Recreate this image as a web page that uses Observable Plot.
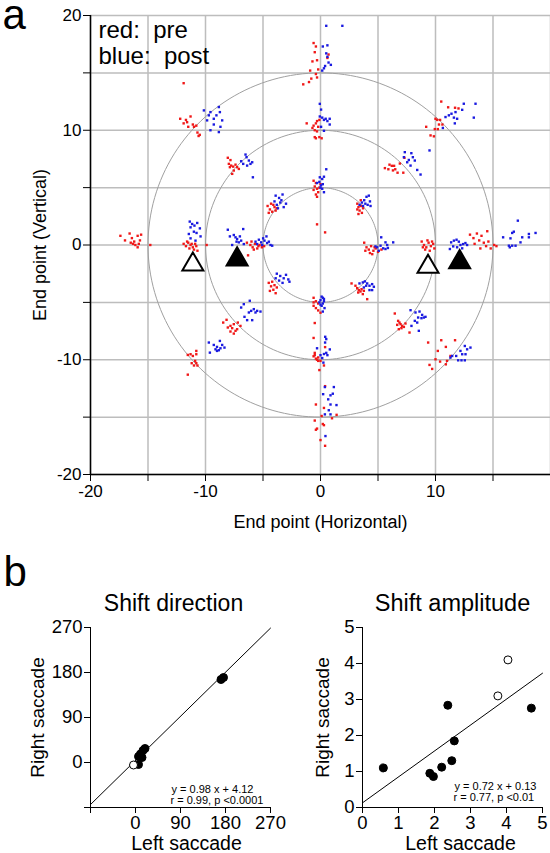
<!DOCTYPE html>
<html><head><meta charset="utf-8">
<script src="https://cdn.jsdelivr.net/npm/d3@7"></script>
<script src="https://cdn.jsdelivr.net/npm/@observablehq/plot@0.6"></script>
<style>
body{margin:0;background:#fff;}
#root{position:relative;width:550px;height:853px;overflow:hidden;background:#fff;}
#root svg{position:absolute;}
</style></head><body><div id="root"></div>
<script>
// ---------- Panel a data: saccade end points (deg) ----------
const prePoints = [
 // left meridian
 [-17.4,0.8],[-17.0,0.4],[-16.6,1.0],[-16.4,0.6],[-16.2,0.3],[-15.9,0.8],[-15.7,0.4],[-16.1,0.0],[-15.9,-0.2],[-16.3,0.1],[-15.6,0.9],[-16.5,0.2],[-15.8,0.1],[-14.8,0.0],
 [-11.9,0.1],[-11.7,-0.1],[-11.5,0.2],[-11.3,0.0],[-11.1,-0.2],[-10.9,0.1],[-11.4,-0.3],[-11.0,-0.4],[-10.8,-0.1],[-11.6,0.3],[-11.2,0.1],[-10.7,-0.5],[-9.9,0.0],
 [-6.4,0.2],[-6.1,0.0],[-5.9,-0.2],[-5.7,0.1],[-5.5,-0.3],[-5.3,0.0],[-5.1,-0.2],[-4.9,-0.1],[-5.8,-0.4],[-6.3,-0.9],[-5.4,-0.1],[-6.0,0.3],
 // right meridian
 [3.8,0.2],[4.0,-0.2],[4.2,-0.4],[4.4,-0.1],[4.6,-0.5],[4.8,-0.3],[5.0,-0.6],[4.3,-0.7],[4.7,-0.2],[5.3,-0.4],[3.9,-0.5],[4.5,-0.8],
 [8.8,0.3],[9.0,0.0],[9.2,-0.2],[9.4,0.2],[9.6,-0.1],[9.8,0.1],[9.1,-0.4],[9.5,-0.5],[9.9,-0.3],[9.3,0.4],[8.9,-0.2],[9.7,0.3],
 [13.0,0.9],[13.3,0.6],[13.6,1.0],[13.8,0.4],[14.0,0.8],[14.2,0.2],[14.4,-0.1],[14.6,0.3],[14.8,-0.3],[15.1,0.0],[13.9,-0.3],[14.5,1.2],[13.4,0.1],[15.3,-0.1],
 // upper meridian
 [-0.6,17.6],[-0.4,17.3],[-0.5,16.8],[-0.3,16.1],[-0.2,15.3],[-0.9,15.2],[-0.4,14.9],[-0.3,14.6],[-0.8,14.5],[-1.0,14.2],[-1.5,14.0],[0.7,16.6],[0.6,16.3],[-0.7,16.0],
 [-1.2,10.6],[-0.6,10.4],[-0.4,10.6],[-0.3,10.8],[-0.1,10.9],[-0.5,10.0],[-0.3,9.9],[-0.5,9.4],[-0.4,9.3],[-0.1,9.4],[0.1,9.3],[-0.7,10.2],[-0.2,10.3],
 [-0.6,5.6],[-0.4,5.4],[-0.5,5.1],[-0.3,4.9],[-0.6,4.8],[-0.2,4.6],[-0.3,4.2],[0.0,5.3],[-0.4,4.4],[-0.1,5.0],[-0.3,1.8],[0.4,1.1],
 // lower meridian
 [-0.6,-4.6],[-0.4,-4.9],[-0.6,-5.3],[-0.4,-5.5],[-0.2,-5.7],[0.0,-5.9],[-0.6,-5.0],[-0.2,-5.1],[-0.5,-6.8],
 [-0.6,-8.1],[0.4,-8.9],[-0.5,-9.4],[-0.6,-9.7],[-0.4,-9.9],[-0.3,-10.0],[-0.2,-10.1],[0.0,-10.1],[0.3,-10.5],[-0.1,-10.9],[-0.5,-9.6],[-0.2,-9.8],
 [0.4,-12.3],[-0.4,-13.9],[0.3,-14.2],[0.1,-14.9],[1.0,-15.1],[1.4,-14.8],[-0.5,-15.3],[0.3,-15.7],[0.2,-15.6],[-0.3,-16.0],[-0.4,-16.1],[0.0,-17.0],[0.4,-17.5],
 // upper left
 [-11.9,14.1],[-12.2,11.0],[-11.7,10.9],[-11.6,10.7],[-11.3,11.2],[-11.1,10.5],[-11.0,10.3],[-10.8,10.4],[-10.7,9.8],[-10.6,9.5],[-10.5,9.6],[-11.5,10.3],[-11.9,10.6],
 [-8.06,7.6],[-7.83,7.4],[-7.97,7.07],[-7.77,6.92],[-7.59,6.83],[-7.39,7.0],[-7.25,6.78],[-7.54,6.49],[-7.68,6.2],[-7.1,6.63],[-7.88,6.78],
 [-4.6,3.4],[-4.4,3.1],[-4.3,3.6],[-4.2,2.9],[-4.0,3.3],[-3.9,3.0],[-4.5,2.8],[-4.1,3.5],[-3.8,3.2],
 // upper right
 [3.2,3.6],[3.3,3.3],[3.4,3.0],[3.5,3.4],[3.6,2.8],[3.3,2.7],[3.7,3.2],[3.5,3.9],[3.2,3.1],
 [5.6,6.7],[6.0,7.0],[6.2,6.9],[6.4,6.9],[6.5,6.6],[6.3,6.5],[6.7,6.3],[7.2,6.3],[6.9,7.1],[7.3,7.6],[5.9,6.6],
 [9.19,10.3],[9.57,9.55],[9.86,9.47],[10.0,11.0],[10.15,10.9],[10.4,10.9],[10.3,10.5],[10.6,10.5],[9.94,10.1],[10.2,10.1],[10.5,12.5],[11.1,12.0],[11.7,11.96],[12.0,11.9],
 // lower left
 [-4.5,-3.3],[-4.3,-3.6],[-4.1,-3.9],[-4.0,-3.5],[-4.4,-4.0],[-3.9,-4.2],[-4.2,-3.2],[-3.8,-3.7],
 [-8.46,-6.76],[-8.17,-6.52],[-8.06,-7.19],[-7.83,-7.05],[-7.68,-7.25],[-7.54,-6.9],[-7.39,-7.48],[-7.25,-7.34],[-7.54,-7.72],[-7.83,-7.54],[-7.19,-6.76],[-6.96,-7.05],
 [-11.54,-9.58],[-11.3,-9.52],[-11.1,-9.67],[-10.8,-9.23],[-10.9,-10.1],[-11.2,-10.3],[-11.0,-10.5],[-10.8,-10.3],[-10.7,-10.5],[-11.54,-11.3],[-10.8,-9.52],
 // lower right
 [2.7,-3.35],[3.04,-3.55],[3.19,-3.76],[3.33,-3.93],[3.48,-4.05],[3.28,-4.14],[3.57,-3.85],[3.68,-4.28],[4.06,-4.72],[3.77,-3.99],
 [6.46,-5.97],[6.75,-6.61],[6.87,-6.76],[6.96,-6.9],[7.1,-7.05],[7.04,-7.25],[7.25,-7.14],[7.39,-6.84],[7.74,-7.63],[6.81,-7.34],[6.67,-6.96],
 [9.36,-8.5],[10.5,-8.3],[10.9,-8.88],[11.7,-8.3],[10.2,-9.23],[10.0,-9.96],[10.4,-10.16],[11.0,-10.1],[10.9,-10.4],[9.48,-10.45],[9.71,-10.8],[11.3,-9.67]
];
const postPoints = [
 // left meridian
 [-11.37,2.04],[-11.16,1.83],[-11.3,1.54],[-10.96,1.69],[-10.72,1.92],[-10.49,1.45],[-11.01,1.16],[-10.78,1.05],[-11.45,0.96],[-10.43,0.75],[-10.87,0.38],[-11.3,0.58],
 [-8.06,1.33],[-6.72,1.39],[-7.54,0.87],[-7.39,0.67],[-7.25,0.52],[-7.01,0.75],[-6.9,0.38],[-7.1,0.23],[-7.68,0.0],[-6.67,0.08],[-7.88,0.75],[-7.3,0.29],
 [-5.65,0.29],[-5.36,0.46],[-5.16,0.23],[-4.99,0.58],[-4.87,0.38],[-4.7,0.75],[-4.64,0.17],[-4.49,0.29],[-4.35,0.0],[-4.2,-0.06],[-5.07,0.0],[-5.51,0.08],
 // right meridian
 [5.28,0.67],[5.65,0.23],[6.32,0.23],[4.93,-0.2],[5.22,-0.06],[5.45,-0.29],[5.65,-0.35],[5.86,-0.26],[5.07,-0.5],[4.78,-0.12],[5.8,0.0],
 [11.25,-0.35],[11.36,0.23],[11.6,0.38],[11.83,0.46],[12.03,0.29],[12.17,0.0],[12.4,0.08],[12.6,0.17],[12.75,0.0],[11.88,-0.2],[11.54,-0.12],[12.32,-0.29],
 [15.88,0.67],[16.52,0.58],[16.67,1.05],[16.81,1.16],[17.16,2.12],[17.39,0.23],[17.54,0.67],[18.12,0.96],[18.12,0.67],[18.7,1.05],[16.38,-0.06],[16.67,-0.06],[16.96,-0.06],[16.46,-0.2],
 // upper meridian
 [0.5,19.1],[1.9,19.1],[0.2,17.3],[0.6,17.4],[0.5,16.7],[0.6,16.4],[0.7,15.9],[0.9,15.7],[0.3,15.4],[0.15,15.2],[0.4,15.6],
 [-0.06,12.3],[0.05,11.8],[-0.06,11.2],[0.15,11.1],[0.3,10.9],[0.45,11.0],[0.8,11.0],[0.8,10.5],[0.05,10.3],[0.3,9.95],[0.6,10.8],
 [0.5,6.6],[-0.06,5.9],[0.15,5.75],[0.3,5.95],[-0.1,5.5],[0.05,5.2],[0.15,4.9],[-0.3,5.4],[0.2,5.3],[0.0,5.0],[0.3,4.6],
 // lower meridian
 [0.1,-4.5],[0.2,-4.6],[0.0,-4.8],[0.3,-4.9],[-0.1,-5.0],[0.2,-5.1],[0.1,-5.3],[0.35,-5.5],[0.2,-5.8],[0.0,-5.2],[0.3,-4.7],
 [0.41,-8.0],[0.5,-8.2],[0.4,-8.5],[0.81,-9.1],[-0.3,-9.0],[0.0,-9.6],[0.3,-9.5],[0.6,-9.6],[0.15,-9.85],[0.25,-10.25],[0.5,-9.4],
 [0.38,-12.38],[1.16,-12.38],[0.23,-13.0],[0.87,-13.1],[1.07,-12.96],[0.67,-13.45],[0.87,-13.9],[1.39,-13.95],[0.38,-14.76],[0.72,-14.4],[0.87,-14.76],[0.43,-16.65],
 // upper left
 [-10.14,11.73],[-9.71,11.3],[-9.57,11.58],[-9.28,11.0],[-9.05,11.3],[-8.84,12.02],[-8.75,11.58],[-8.55,10.86],[-8.7,10.3],[-8.84,9.84],[-9.57,10.0],[-9.86,10.86],[-9.28,10.5],
 [-6.9,7.3],[-6.52,7.88],[-6.43,7.65],[-6.23,7.36],[-6.09,7.07],[-6.38,6.92],[-5.94,7.21],[-5.88,5.9],[-6.72,7.07],
 [-4.0,3.8],[-3.8,3.5],[-3.6,4.1],[-3.4,3.9],[-3.2,3.3],[-3.0,3.6],[-3.7,3.2],[-3.9,4.3],[-3.3,4.4],[-3.5,3.7],
 // upper right
 [3.4,3.5],[3.6,3.7],[3.8,3.9],[4.0,4.2],[4.2,4.3],[4.3,3.8],[4.1,3.5],[3.9,3.6],[3.7,3.4],[4.35,3.4],
 [7.33,8.09],[7.9,8.0],[7.25,7.65],[7.68,7.41],[8.03,7.65],[8.2,7.36],[7.83,6.92],[8.41,6.54],[8.7,6.14],[7.54,7.21],[9.48,8.24],
 [12.46,12.31],[13.48,12.31],[10.87,11.15],[11.16,11.3],[11.39,11.44],[11.74,11.58],[11.88,11.0],[11.6,11.1],[12.32,11.78],[13.33,11.1],[11.68,10.6],[10.64,10.2],
 // lower left
 [-3.8,-2.5],[-3.5,-2.7],[-3.2,-2.9],[-2.8,-3.0],[-3.6,-3.1],[-3.3,-3.3],[-3.0,-2.6],[-3.9,-2.9],[-2.7,-3.2],
 [-6.9,-5.45],[-6.67,-5.16],[-6.15,-4.86],[-6.03,-5.74],[-5.8,-5.59],[-5.65,-5.88],[-6.23,-5.88],[-6.61,-6.26],[-6.38,-6.55],[-5.94,-6.55],[-5.22,-5.8],[-5.51,-5.74],
 [-9.71,-8.5],[-9.28,-8.71],[-9.0,-8.88],[-8.75,-8.36],[-8.55,-8.71],[-8.35,-8.94],[-9.13,-9.09],[-8.84,-9.17],[-8.7,-9.0],[-9.62,-9.38],[-9.0,-9.23],
 // lower right
 [3.39,-3.35],[3.68,-3.26],[3.86,-3.17],[4.06,-3.35],[4.26,-3.55],[4.49,-3.41],[4.64,-3.64],[4.26,-3.93],[4.49,-3.93],[3.97,-3.55],[3.77,-3.7],
 [7.83,-5.68],[8.26,-5.88],[8.61,-5.8],[8.84,-6.09],[8.49,-6.32],[8.99,-6.32],[8.2,-6.61],[8.41,-6.76],[7.91,-7.05],[8.55,-7.48],[8.78,-6.38],[9.13,-6.26],
 [11.3,-9.81],[11.8,-9.67],[12.17,-9.23],[12.55,-8.8],[12.75,-9.09],[13.04,-8.94],[12.32,-9.52],[12.61,-9.52],[11.97,-10.05],[12.26,-10.05],[12.55,-10.05],[11.45,-9.67]
];
// triangle markers (target positions before/after)
const triX = [-11.1, -7.25, 9.35, 12.1];
const triY = [-1.7, -1.25, -1.9, -1.5];
const triFilled = [false, true, false, true];
const ringRadii = [5, 10, 15];
const gridTicksA = [-20, -15, -10, -5, 0, 5, 10, 15, 20];

// ---------- Panel b data ----------
const dirLeft   = [171, 176, 19, 15, 10, 6, 13, 6, -4];
const dirRight  = [166, 170, 28, 24, 17, 12, 10, -4, -5];
const dirOpen   = [false, false, false, false, false, false, false, false, true];
const dirFit = {slope: 0.98, intercept: 4.12};
const dirTicks = [-90, 0, 90, 180, 270];

const ampLeft  = [0.58, 1.87, 1.97, 2.2, 2.37, 2.48, 2.55, 4.69, 3.76, 4.04];
const ampRight = [1.1, 0.95, 0.86, 1.12, 2.84, 1.3, 1.85, 2.76, 3.1, 4.1];
const ampOpen  = [false, false, false, false, false, false, false, false, true, true];
const ampFit = {slope: 0.72, intercept: 0.13};
const ampTicks = [0, 1, 2, 3, 4, 5];

// ---------- build ----------
const FONT = "'Liberation Sans', Arial, Helvetica, sans-serif";
const hy = d => (d < 0 ? "-" + Math.abs(d) : String(d));
const root = document.getElementById("root");

const pre = prePoints.map(([x, y]) => ({x, y}));
const post = postPoints.map(([x, y]) => ({x, y}));
const tris = triX.map((x, i) => ({x, y: triY[i], filled: triFilled[i]}));
const ringPts = ringRadii.flatMap(r => d3.range(0, 361, 2).map(a => ({r, x: r * Math.cos(a * Math.PI / 180), y: r * Math.sin(a * Math.PI / 180)})));

const plotA = Plot.plot({
  width: 550, height: 540,
  marginLeft: 90, marginRight: 0, marginTop: 15, marginBottom: 66,
  x: {domain: [-20, 20]}, y: {domain: [-20, 20]},
  style: {fontFamily: FONT, fontSize: "17px", background: "transparent", overflow: "visible", color: "black"},
  marks: [
    Plot.ruleX(gridTicksA, {stroke: "#bdbdbd", strokeWidth: 1.5}),
    Plot.ruleY(gridTicksA, {stroke: "#bdbdbd", strokeWidth: 1.5}),
    Plot.line(ringPts, {x: "x", y: "y", z: "r", stroke: "#a0a0a0", strokeWidth: 1}),
    Plot.dot(pre, {x: "x", y: "y", symbol: "square", r: 1.35, fill: "#f01818"}),
    Plot.dot(post, {x: "x", y: "y", symbol: "square", r: 1.35, fill: "#1a1ae0"}),
    Plot.dot(tris, {x: "x", y: "y", symbol: "triangle", r: 7.8, fill: d => d.filled ? "black" : "white", stroke: "black", strokeWidth: 2}),
    Plot.ruleX([-20], {stroke: "black", strokeWidth: 1.5}),
    Plot.ruleY([-20], {stroke: "black", strokeWidth: 1.5}),
    Plot.axisX({ticks: gridTicksA, tickFormat: d => (d % 10 === 0 && d < 20) ? hy(d) : "", tickSize: 7, tickPadding: 3, label: null}),
    Plot.axisY({ticks: gridTicksA, tickFormat: d => (d % 10 === 0) ? hy(d) : "", tickSize: 7, tickPadding: 2, label: null}),
    Plot.text(["End point (Horizontal)"], {text: d => d, frameAnchor: "bottom", dy: 53, lineAnchor: "bottom", textAnchor: "middle", fontSize: 18}),
    Plot.text(["End point (Vertical)"], {text: d => d, frameAnchor: "left", dx: -45, rotate: -90, lineAnchor: "bottom", textAnchor: "middle", fontSize: 18}),
    Plot.text(["red:  pre"], {text: d => d, frameAnchor: "top-left", dx: 8, dy: 22, lineAnchor: "bottom", textAnchor: "start", fontSize: 24}),
    Plot.text(["blue:  post"], {text: d => d, frameAnchor: "top-left", dx: 8, dy: 48, lineAnchor: "bottom", textAnchor: "start", fontSize: 24}),
    Plot.text(["a"], {text: d => d, frameAnchor: "top-left", dx: -88, dy: 13, lineAnchor: "bottom", textAnchor: "start", fontSize: 42})
  ]
});
plotA.style.left = "0px"; plotA.style.top = "0px";
root.appendChild(plotA);

function smallPlot({xs, ys, open, fit, ticks, domain, fmt, title, titleSize, eq1, eq2, left, mL, mR, titleDx, yLabDx, xLabDx, xLabSize, eqDx, eqDy1, eqDy2, extra}) {
  const pts = xs.map((x, i) => ({x, y: ys[i], open: open[i]}));
  const fitLine = domain.map(x => ({x, y: fit.slope * x + fit.intercept}));
  const p = Plot.plot({
    width: 275, height: 293,
    marginLeft: mL, marginRight: mR, marginTop: 67, marginBottom: 46,
    x: {domain}, y: {domain},
    style: {fontFamily: FONT, fontSize: "18.5px", background: "transparent", overflow: "visible", color: "black"},
    marks: [
      Plot.line(fitLine, {x: "x", y: "y", stroke: "black", strokeWidth: 1}),
      Plot.dot(pts, {x: "x", y: "y", r: 4, fill: d => d.open ? "white" : "black", stroke: "black", strokeWidth: 1}),
      Plot.ruleX([domain[0]], {stroke: "black", strokeWidth: 1}),
      Plot.ruleY([domain[0]], {stroke: "black", strokeWidth: 1}),
      Plot.axisX({ticks, tickFormat: fmt, tickSize: 6, tickPadding: 2, label: null}),
      Plot.axisY({ticks, tickFormat: fmt, tickSize: 6, tickPadding: 2, label: null}),
      Plot.text([title], {text: d => d, frameAnchor: "top", dx: titleDx, dy: -17, lineAnchor: "bottom", textAnchor: "middle", fontSize: titleSize}),
      Plot.text(["Left saccade"], {text: d => d, frameAnchor: "bottom", dx: xLabDx, dy: 42, lineAnchor: "bottom", textAnchor: "middle", fontSize: xLabSize}),
      Plot.text(["Right saccade"], {text: d => d, frameAnchor: "left", dx: yLabDx, rotate: -90, lineAnchor: "bottom", textAnchor: "middle", fontSize: 19}),
      Plot.text([eq1], {text: d => d, frameAnchor: "bottom-left", dx: eqDx, dy: eqDy1, lineAnchor: "bottom", textAnchor: "start", fontSize: 11}),
      Plot.text([eq2], {text: d => d, frameAnchor: "bottom-left", dx: eqDx - 1, dy: eqDy2, lineAnchor: "bottom", textAnchor: "start", fontSize: 11}),
      ...(extra || [])
    ]
  });
  p.style.left = left + "px"; p.style.top = "560px";
  return p;
}

root.appendChild(smallPlot({
  xs: dirLeft, ys: dirRight, open: dirOpen, fit: dirFit, ticks: dirTicks, domain: [-90, 270],
  fmt: d => d === -90 ? "" : String(d), title: "Shift direction", titleSize: 23,
  eq1: "y = 0.98 x + 4.12", eq2: "r = 0.99, p <0.0001",
  left: 0, mL: 90, mR: 5, titleDx: -7, yLabDx: -47, xLabDx: 6, xLabSize: 19.5, eqDx: 81, eqDy1: -14.5, eqDy2: -3.5,
  extra: [Plot.text(["b"], {text: d => d, frameAnchor: "top-left", dx: -87, dy: -42, lineAnchor: "bottom", textAnchor: "start", fontSize: 42})]
}));
root.appendChild(smallPlot({
  xs: ampLeft, ys: ampRight, open: ampOpen, fit: ampFit, ticks: ampTicks, domain: [0, 5],
  fmt: d => String(d), title: "Shift amplitude", titleSize: 23.5,
  eq1: "y = 0.72 x + 0.13", eq2: "r = 0.77, p <0.01",
  left: 275, mL: 87, mR: 8, titleDx: 0, yLabDx: -34, xLabDx: 8, xLabSize: 19.5, eqDx: 92, eqDy1: -17.5, eqDy2: -6.5
}));
</script>
</body></html>
